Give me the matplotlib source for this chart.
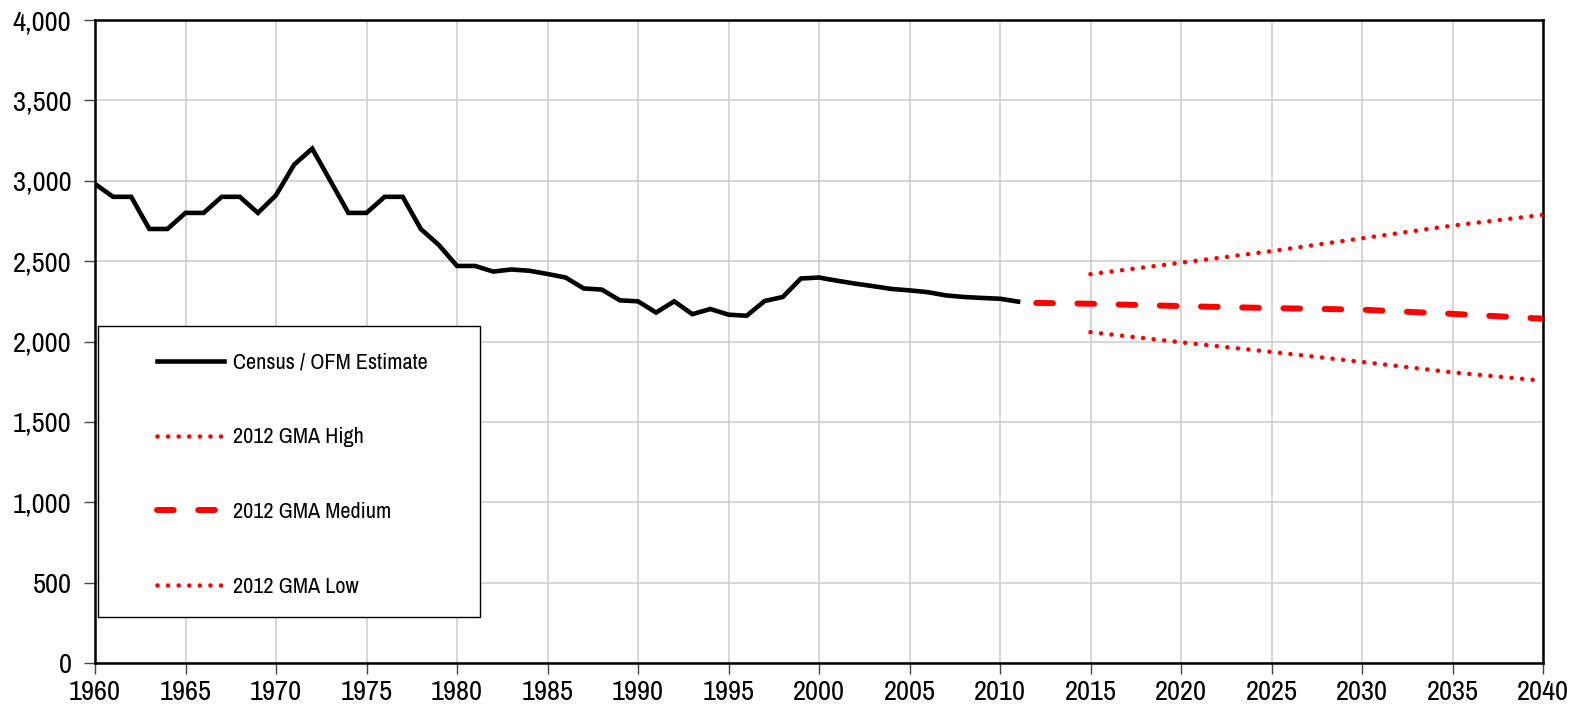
import matplotlib
matplotlib.use('Agg')
import matplotlib.pyplot as plt
from matplotlib.patches import Rectangle
from matplotlib.ticker import FuncFormatter, MultipleLocator

plt.rcParams['font.family'] = ['Archivo Narrow', 'Liberation Sans', 'DejaVu Sans']

# Census / OFM estimates, 1960-2011
census_years = list(range(1960, 2012))
census_vals = [2980, 2900, 2900, 2700, 2700, 2800, 2800, 2900, 2900, 2800,
               2910, 3100, 3200, 3000, 2800, 2800, 2900, 2900, 2700, 2600,
               2470, 2470, 2435, 2448, 2440, 2420, 2398, 2330, 2323, 2256,
               2250, 2180, 2250, 2170, 2202, 2167, 2160, 2252, 2277, 2392,
               2398, 2378, 2360, 2344, 2327, 2318, 2307, 2287, 2277, 2271,
               2266, 2248]

# 2012 GMA projections
med_years = [2012, 2015, 2020, 2025, 2030, 2035, 2040]
med_vals = [2240, 2235, 2220, 2208, 2198, 2172, 2142]
proj_years = [2015, 2020, 2025, 2030, 2035, 2040]
high_vals = [2419, 2490, 2562, 2642, 2721, 2788]
low_vals = [2058, 1995, 1935, 1873, 1808, 1756]

fig = plt.figure(figsize=(15.85, 7.13), dpi=100)
ax = fig.add_axes([95 / 1585, 1 - 663 / 713, (1543 - 95) / 1585, (663 - 20) / 713])

dots = (0, (0.01, 2.3))
ax.plot(census_years, census_vals, color='black', lw=3.3, solid_joinstyle='miter',
        label='Census / OFM Estimate', zorder=4)
ax.plot(proj_years, high_vals, color='red', lw=3.3, linestyle=dots,
        dash_capstyle='round', label='2012 GMA High', zorder=4)
ax.plot(med_years, med_vals, color='red', lw=4.3, linestyle=(0, (2.8, 4.1)),
        dash_capstyle='round', label='2012 GMA Medium', zorder=4)
ax.plot(proj_years, low_vals, color='red', lw=3.3, linestyle=dots,
        dash_capstyle='round', label='2012 GMA Low', zorder=4)

ax.set_xlim(1960, 2040)
ax.set_ylim(0, 4000)
ax.xaxis.set_major_locator(MultipleLocator(5))
ax.yaxis.set_major_locator(MultipleLocator(500))
ax.yaxis.set_major_formatter(FuncFormatter(lambda v, p: f'{int(v):,}'))
ax.grid(True, color='#cfcfcf', lw=1.2)
ax.set_axisbelow(True)
for s in ax.spines.values():
    s.set_color('black')
    s.set_linewidth(1.8)
ax.tick_params(direction='out', length=8, width=1, color='#444444', labelsize=20.5)
ax.tick_params(axis='y', pad=9)
ax.tick_params(axis='x', pad=4)

# legend box
ax.add_patch(Rectangle((0.002, 0.072), 0.264, 0.452, transform=ax.transAxes,
                       facecolor='white', edgecolor='black', lw=1.0, zorder=5))
leg = ax.legend(loc='upper left', bbox_to_anchor=(0.043, 0.483), frameon=False,
                fontsize=16, handlelength=3.0, handletextpad=0.4,
                labelspacing=2.47, borderpad=0, borderaxespad=0)
leg.set_zorder(6)

fig.savefig('out.png', dpi=100)
